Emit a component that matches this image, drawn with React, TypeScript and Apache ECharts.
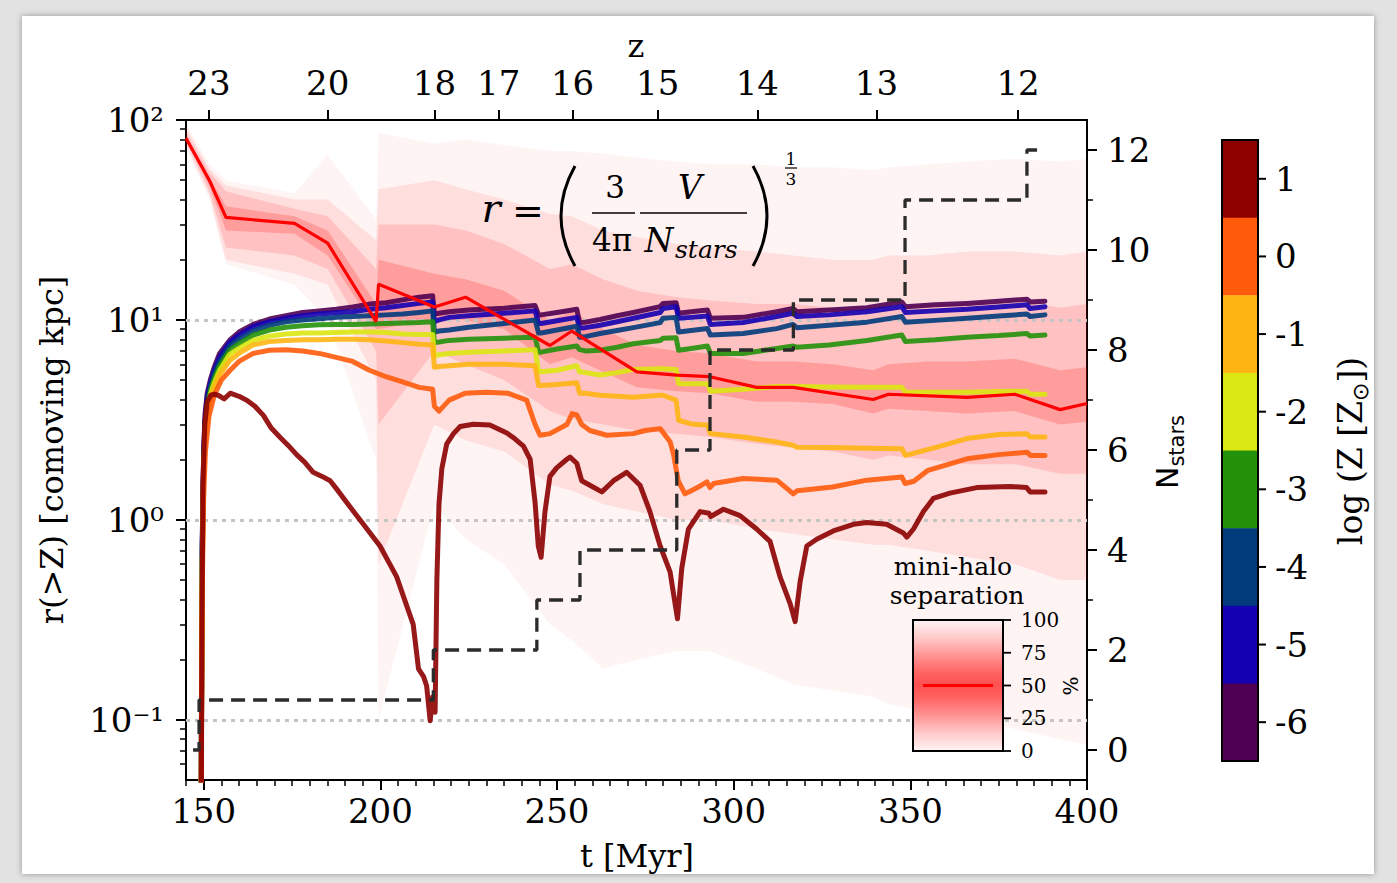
import React, { useEffect, useRef } from 'react';
import * as echarts from 'echarts';

// ---------- axis ticks / labels ----------
const T_TICKS = [150, 200, 250, 300, 350, 400];
const Z_LABELS = ['23', '20', '18', '17', '16', '15', '14', '13', '12'];
const Z_TICK_T = [151.5, 185.1, 215.3, 233.5, 254.4, 278.5, 306.7, 340.4, 380.5];
const R_TICKS = [0.1, 1, 10, 100];
const R_TICK_LABELS = ['10⁻¹', '10⁰', '10¹', '10²'];
const N_TICKS = [0, 2, 4, 6, 8, 10, 12];
const N_MINOR = [1, 3, 5, 7, 9, 11];
const METAL_LEVELS = [1, 0, -1, -2, -3, -4, -5, -6];
const METAL_COLORS = ['#8c0000', '#ff5b0b', '#ffb514', '#dbe712', '#24910b', '#013b7c', '#1400b1', '#4f0052'];
const LEGEND_PCT = [100, 75, 50, 25, 0];

// ---------- metallicity radius curves ----------
const T_GRID = [149.2, 149.6, 150.0, 150.4, 151.0, 152.0, 153.0, 154.5, 157.3, 160.0, 164.0, 168.6, 173.3, 178.0, 182.7, 187.5, 192.2, 196.9, 201.6, 206.3, 211.0, 214.8,
  215.3, 216.6, 219.5, 225.0, 235.0, 243.8,
  244.8, 245.5, 250.0, 255.6,
  256.4, 258.0, 262.2, 267.0, 271.6, 279.2, 280.0, 283.7,
  284.4, 288.0, 292.6,
  293.4, 302.7, 312.2, 316.8,
  317.9, 327.0, 337.7, 347.6,
  348.6, 357.0, 366.0, 375.0, 383.0,
  383.9, 388.1];
const R_M6 = [0.02, 0.8, 2.2, 3.4, 4.3, 5.1, 5.8, 6.8, 7.9, 8.7, 9.5, 10.1, 10.5, 10.9, 11.1, 11.3, 11.6, 12.0, 12.2, 12.6, 13.0, 13.2,
  10.7, 10.8, 11.0, 11.2, 11.45, 11.8,
  10.6, 10.6, 10.9, 11.3,
  9.7, 9.75, 10.05, 10.5, 10.9, 11.65, 12.1, 12.2,
  10.8, 11.0, 11.2,
  10.2, 10.3, 11.0, 11.4,
  11.0, 11.2, 11.5, 12.3,
  11.65, 11.9, 12.1, 12.4, 12.7,
  12.3, 12.4];
const R_M5 = [0.02, 0.75, 2.1, 3.2, 4.1, 4.9, 5.6, 6.5, 7.7, 8.4, 9.25, 9.8, 10.2, 10.5, 10.7, 10.85, 11.0, 11.3, 11.5, 11.8, 12.1, 12.3,
  9.8, 10.0, 10.3, 10.5, 10.8, 11.1,
  9.6, 9.6, 9.9, 10.3,
  9.1, 9.15, 9.4, 9.8, 10.2, 10.9, 11.4, 11.65,
  10.2, 10.3, 10.45,
  9.5, 9.7, 10.4, 10.8,
  10.4, 10.6, 11.0, 11.65,
  10.9, 11.1, 11.3, 11.6, 11.9,
  11.4, 11.65];
const R_M4 = [0.02, 0.7, 2.0, 3.0, 3.9, 4.7, 5.4, 6.2, 7.4, 8.0, 8.8, 9.4, 9.8, 10.0, 10.15, 10.3, 10.4, 10.5, 10.6, 10.7, 10.9, 11.1,
  8.7, 8.8, 8.9, 9.2, 9.6, 10.0,
  8.6, 8.6, 8.9, 9.3,
  8.2, 8.25, 8.55, 8.85, 9.15, 9.7, 10.2, 10.3,
  8.7, 8.85, 9.05,
  8.4, 8.55, 9.05, 9.5,
  9.15, 9.4, 9.75, 10.4,
  9.75, 9.95, 10.2, 10.45, 10.7,
  10.4, 10.6];
const R_M3 = [0.02, 0.65, 1.9, 2.8, 3.7, 4.5, 5.1, 5.9, 7.05, 7.6, 8.4, 8.9, 9.2, 9.35, 9.45, 9.5, 9.5, 9.55, 9.6, 9.65, 9.7, 9.8,
  7.7, 7.75, 7.9, 8.0, 8.1, 8.2,
  6.9, 6.9, 7.15, 7.4,
  7.1, 7.0, 7.05, 7.3, 7.6, 7.9, 8.1, 8.15,
  7.05, 7.2, 7.4,
  6.8, 6.8, 7.2, 7.4,
  7.3, 7.5, 7.9, 8.4,
  7.8, 7.95, 8.2, 8.35, 8.55,
  8.3, 8.4];
const R_M2 = [0.02, 0.6, 1.8, 2.6, 3.5, 4.3, 4.85, 5.6, 6.7, 7.2, 7.9, 8.3, 8.5, 8.6, 8.6, 8.65, 8.7, 8.7, 8.65, 8.5, 8.45, 8.45,
  6.6, 6.7, 6.8, 6.9, 7.0, 7.1,
  5.5, 5.5, 5.6, 5.9,
  5.5, 5.45, 5.3, 5.45, 5.65, 5.7, 5.7, 5.65,
  4.8, 4.8, 4.8,
  4.4, 4.5, 4.65, 4.65,
  4.65, 4.62, 4.6, 4.6,
  4.35, 4.35, 4.35, 4.38, 4.4,
  4.25, 4.25];
const R_M1 = [0.02, 0.55, 1.7, 2.5, 3.3, 4.1, 4.6, 5.3, 6.25, 6.8, 7.5, 7.8, 7.9, 7.95, 7.95, 8.0, 8.0, 7.95, 7.85, 7.7, 7.55, 7.5,
  5.8, 5.85, 5.9, 6.0, 6.0, 5.9,
  4.7, 4.7, 4.75, 4.85,
  4.3, 4.3, 4.2, 4.15, 4.1, 4.2, 4.2, 3.97,
  3.15, 3.02, 2.97,
  2.7, 2.6, 2.45, 2.36,
  2.31, 2.3, 2.28, 2.27,
  2.1, 2.3, 2.55, 2.67, 2.7,
  2.6, 2.6];
const R_Z0 = [[149.2, 0.02], [149.6, 0.45], [150.0, 1.3], [150.5, 2.2], [151.5, 3.3], [153, 4.2], [155, 5.0], [157.5, 5.6], [160, 6.2], [164, 6.8], [168.6, 7.05], [173.3, 7.1], [178, 7.0], [182.7, 6.8], [187.5, 6.5], [192.2, 6.2], [196.9, 5.6], [201.6, 5.2], [206.3, 4.9], [211, 4.6], [214.8, 4.5], [215.3, 3.7], [216.6, 3.5], [219.5, 3.97], [224, 4.3], [230, 4.35], [236, 4.3], [241.4, 3.97], [243.8, 3.0], [245.2, 2.65], [248, 2.7], [252.8, 3.0], [254.3, 3.4], [255.6, 3.35], [257, 3.0], [259.3, 2.8], [264.1, 2.65], [271.6, 2.7], [275, 2.8], [279.2, 2.86], [282, 2.46], [283, 2.12], [284.3, 1.57], [286.2, 1.35], [288, 1.4], [290, 1.46], [292.4, 1.55], [293.3, 1.45], [294.3, 1.52], [302.7, 1.61], [312.2, 1.58], [316.9, 1.35], [318, 1.4], [328, 1.46], [337.7, 1.58], [347.6, 1.64], [348.5, 1.52], [351, 1.56], [355, 1.77], [366, 2.02], [375, 2.12], [383, 2.18], [384, 2.1], [388.1, 2.1]];
const R_P1 = [[149.3, 0.02], [149.5, 0.3], [149.8, 1.5], [150.3, 3.0], [151.0, 3.9], [152.0, 4.2], [153.0, 4.25], [154.1, 4.2], [155.8, 4.03], [157.5, 4.3], [160, 4.15], [162.2, 3.97], [164.5, 3.7], [166.9, 3.33], [169, 2.9], [171.6, 2.59], [174, 2.35], [176.3, 2.12], [178.5, 1.95], [181.0, 1.73], [183.5, 1.65], [185.8, 1.57], [188, 1.4], [190.5, 1.22], [195.2, 0.95], [199.9, 0.74], [204.6, 0.52], [209.3, 0.3], [210.8, 0.18], [212.2, 0.165], [213.1, 0.148], [214.1, 0.099], [214.8, 0.13], [215.5, 0.109], [216.0, 0.5], [216.6, 1.2], [217.4, 1.8], [218.8, 2.4], [220.7, 2.7], [222.6, 2.93], [226.3, 3.01], [231.0, 2.98], [235.8, 2.72], [238, 2.55], [240.5, 2.34], [242.4, 2.01], [243.8, 1.22], [244.7, 0.74], [245.5, 0.65], [246.6, 1.1], [248.0, 1.65], [249.9, 1.82], [252.8, 2.01], [253.7, 2.06], [255.6, 1.92], [257.0, 1.57], [259.3, 1.49], [262.7, 1.38], [266.0, 1.57], [269.7, 1.73], [273.5, 1.49], [276.3, 1.1], [279.2, 0.74], [282.0, 0.55], [284.1, 0.32], [285.3, 0.57], [287.2, 0.9], [290.5, 1.1], [293.0, 1.08], [293.5, 1.04], [297.1, 1.13], [301.8, 1.05], [306.5, 0.9], [310.3, 0.78], [313.1, 0.52], [316.0, 0.38], [317.4, 0.31], [318.8, 0.49], [320.7, 0.74], [323.5, 0.8], [328.2, 0.88], [333.9, 0.95], [337.7, 0.97], [343.3, 0.95], [348.0, 0.86], [349.0, 0.82], [350.9, 0.9], [353.7, 1.1], [356.5, 1.28], [361.2, 1.36], [368.8, 1.45], [378.2, 1.47], [382.9, 1.45], [383.9, 1.38], [388.1, 1.38]];

// ---------- mini-halo separation (median + percentiles) ----------
const MEDIAN = [[145, 81], [151.6, 50], [156.3, 32.6], [175.7, 30.4], [185.1, 24.2], [198.8, 9.8], [199.5, 15.1], [215.3, 11.6], [224.1, 13.0], [248, 7.45], [254.2, 8.8], [272.6, 5.5], [283.9, 5.3], [293.3, 5.2], [306.5, 4.6], [316.9, 4.6], [339.5, 4.0], [343.8, 4.25], [366, 4.1], [379.6, 4.25], [392.4, 3.56], [400, 3.82]];
const BAND_T = [145, 151.6, 156.3, 175.7, 185.1, 198.8, 199.5, 215.3, 224.1, 235, 248, 254.2, 263, 272.6, 283.9, 293.3, 306.5, 316.9, 328, 339.5, 343.8, 355, 366, 379.6, 392.4, 400];
const P0 = [72, 40, 19, 15, 10, 2, 0.1, 1.2, 0.8, 0.6, 0.3, 0.25, 0.18, 0.2, 0.22, 0.22, 0.18, 0.15, 0.14, 0.13, 0.12, 0.11, 0.1, 0.09, 0.08, 0.075];
const P10 = [75, 42, 20, 17, 15, 5, 0.6, 3, 2.5, 2.2, 1.5, 1.4, 1.2, 1.1, 1.0, 1.0, 0.9, 0.85, 0.8, 0.75, 0.75, 0.7, 0.65, 0.6, 0.5, 0.5];
const P25 = [78, 44, 23, 21, 18, 7, 3, 7, 6, 5, 3.5, 3.2, 3, 2.8, 2.7, 2.6, 2.4, 2.3, 2.2, 2.0, 2.1, 2.0, 1.9, 1.9, 1.7, 1.7];
const P40 = [80, 47, 28, 27, 21, 9, 9, 10, 10, 9, 6, 6.5, 5.5, 4.6, 4.4, 4.3, 3.9, 3.9, 3.8, 3.4, 3.6, 3.5, 3.4, 3.5, 3.0, 3.1];
const P60 = [83, 52, 37, 33, 28, 12, 20, 17, 16, 14, 10, 11, 9, 7.5, 7.0, 6.8, 6.2, 6.2, 6.0, 5.6, 6.0, 6.2, 6.2, 6.4, 5.6, 5.8];
const P75 = [87, 55, 44, 36, 33, 18, 30, 30, 28, 24, 18, 19, 16, 14, 13, 12.5, 12, 12, 11.5, 11, 11.5, 12, 12, 12.5, 11.5, 12];
const P90 = [92, 57, 47, 40, 40, 25, 45, 50, 45, 40, 34, 33, 28, 26, 24, 23, 22, 21, 20, 20, 21, 21, 22, 22, 21, 22];
const P100 = [96, 60, 50, 43, 67, 32, 86, 76, 80, 75, 70, 70, 68, 65, 62, 60, 60, 58, 58, 56, 58, 60, 62, 64, 62, 64];

// ---------- number of stars (step) ----------
const NSTARS = [[147, 0], [148.7, 1], [215, 2], [244.3, 3], [256.5, 4], [283.9, 6], [293.3, 8], [316.9, 9], [348.5, 11], [383, 12], [386.7, 12]];

const SERIF = 'DejaVu Serif';
const SANS = 'DejaVu Sans';

const zip = (t: number[], v: number[]) => t.map((x, i) => [x, v[i]]);

function buildOption(): any {
  const tMinor: number[] = [];
  for (let v = 145; v <= 400; v += 5) if (v % 50 !== 0) tMinor.push(v);
  const rMinor: number[] = [];
  [0.01, 0.1, 1, 10].forEach((d) => {
    for (let m = 2; m <= 9; m++) {
      const v = +(m * d).toPrecision(3);
      if (v > 0.05 && v < 100) rMinor.push(v);
    }
  });

  const tickLine = { color: '#000', width: 2 };
  const minorLine = { color: '#000', width: 1.5 };
  const labelBase = { color: '#000', fontFamily: SERIF, fontSize: 34 };

  const bands = [
    { lo: P0, hi: P100, fill: 'rgba(255,0,0,0.045)' },
    { lo: P10, hi: P90, fill: 'rgba(255,0,0,0.09)' },
    { lo: P25, hi: P75, fill: 'rgba(255,0,0,0.13)' },
    { lo: P40, hi: P60, fill: 'rgba(255,0,0,0.19)' },
  ];

  const curveSets: any[] = [
    { level: -6, data: zip(T_GRID, R_M6) },
    { level: -5, data: zip(T_GRID, R_M5) },
    { level: -4, data: zip(T_GRID, R_M4) },
    { level: -3, data: zip(T_GRID, R_M3) },
    { level: -2, data: zip(T_GRID, R_M2) },
    { level: -1, data: zip(T_GRID, R_M1) },
    { level: 0, data: R_Z0 },
    { level: 1, data: R_P1 },
  ];

  const curveSeries = curveSets.map((c) => ({
    type: 'line',
    name: 'log Z = ' + c.level,
    xAxisIndex: 0,
    yAxisIndex: 0,
    data: c.data,
    showSymbol: false,
    symbol: 'none',
    z: 3,
    clip: true,
    lineStyle: { color: METAL_COLORS[METAL_LEVELS.indexOf(c.level)], width: 5, opacity: 0.9, join: 'round', cap: 'round' },
  }));

  // ---------- graphics: labels, colorbar, formula, inset legend ----------
  const g: any[] = [];
  const txt = (x: number, y: number, text: string, size: number, extra: any = {}, el: any = {}) => ({
    type: 'text', x, y, z: 20, silent: true, ...el,
    style: { text, fontSize: size, fontFamily: SERIF, fill: '#000', align: 'center', verticalAlign: 'middle', ...extra },
  });
  g.push(txt(636, 46, 'z', 32));
  g.push(txt(637, 856, 't [Myr]', 32));
  g.push(txt(52, 450, 'r(>Z) [comoving kpc]', 32, {}, { rotation: Math.PI / 2 }));
  g.push({
    type: 'text', x: 1167, y: 452, rotation: Math.PI / 2, z: 20, silent: true,
    style: {
      text: '{n|N}{s|stars}', align: 'center', verticalAlign: 'middle', fill: '#000',
      rich: {
        n: { fontSize: 30, fontFamily: SANS, lineHeight: 40, fill: '#000', verticalAlign: 'middle' },
        s: { fontSize: 21, fontFamily: SANS, lineHeight: 21, fill: '#000', verticalAlign: 'bottom' },
      },
    },
  });

  // colorbar
  const cbX = 1222, cbY = 140, cbW = 36, cbH = 621;
  const cell = cbH / METAL_LEVELS.length;
  METAL_LEVELS.forEach((lv, i) => {
    g.push({ type: 'rect', z: 20, silent: true, shape: { x: cbX, y: cbY + i * cell, width: cbW, height: cell + 0.6 }, style: { fill: METAL_COLORS[i] } });
    const cy = cbY + (i + 0.5) * cell;
    g.push({ type: 'line', z: 21, silent: true, shape: { x1: cbX + cbW, y1: cy, x2: cbX + cbW + 8, y2: cy }, style: { stroke: '#000', lineWidth: 2 } });
    g.push(txt(cbX + cbW + 17, cy, String(lv), 34, { align: 'left' }));
  });
  g.push({ type: 'rect', z: 21, silent: true, shape: { x: cbX, y: cbY, width: cbW, height: cbH }, style: { fill: 'none', stroke: '#000', lineWidth: 2 } });
  g.push({
    type: 'text', x: 1350, y: 451, rotation: Math.PI / 2, z: 20, silent: true,
    style: {
      text: '{a|log (Z [Z}{s|⊙}{a|])}', align: 'center', verticalAlign: 'middle', fill: '#000',
      rich: {
        a: { fontSize: 33, fontFamily: SERIF, lineHeight: 42, fill: '#000', verticalAlign: 'middle' },
        s: { fontSize: 22, fontFamily: SANS, lineHeight: 22, fill: '#000', verticalAlign: 'bottom' },
      },
    },
  });

  // formula
  const italic = { fontStyle: 'italic' };
  g.push(txt(491, 208, 'r', 40, italic));
  g.push(txt(528, 211, '=', 38));
  g.push({ type: 'bezierCurve', z: 20, silent: true, shape: { x1: 575, y1: 166, x2: 575, y2: 266, cpx1: 547, cpy1: 216 }, style: { stroke: '#000', lineWidth: 3, fill: 'none' } });
  g.push(txt(615, 187, '3', 31));
  g.push({ type: 'line', z: 20, silent: true, shape: { x1: 592, y1: 213, x2: 635, y2: 213 }, style: { stroke: '#000', lineWidth: 1.6 } });
  g.push(txt(612, 240, '4π', 31));
  g.push(txt(690, 187, 'V', 33, italic));
  g.push({ type: 'line', z: 20, silent: true, shape: { x1: 640, y1: 213, x2: 747, y2: 213 }, style: { stroke: '#000', lineWidth: 1.6 } });
  g.push(txt(659, 240, 'N', 33, italic));
  g.push(txt(675, 249, 'stars', 25, { ...italic, align: 'left' }));
  g.push({ type: 'bezierCurve', z: 20, silent: true, shape: { x1: 753, y1: 166, x2: 753, y2: 266, cpx1: 781, cpy1: 216 }, style: { stroke: '#000', lineWidth: 3, fill: 'none' } });
  g.push(txt(791, 159, '1', 17));
  g.push({ type: 'line', z: 20, silent: true, shape: { x1: 785, y1: 168, x2: 797, y2: 168 }, style: { stroke: '#000', lineWidth: 1.2 } });
  g.push(txt(791, 179, '3', 17));

  // inset legend
  const lgX = 913, lgY = 620, lgW = 90, lgH = 131;
  g.push(txt(953, 566, 'mini-halo', 25));
  g.push(txt(957, 595, 'separation', 25));
  g.push({
    type: 'rect', z: 20, silent: true, shape: { x: lgX, y: lgY, width: lgW, height: lgH },
    style: {
      stroke: '#000', lineWidth: 2,
      fill: new echarts.graphic.LinearGradient(0, 0, 0, 1, [
        { offset: 0, color: '#fff3f3' },
        { offset: 0.13, color: '#ffcccc' },
        { offset: 0.27, color: '#ff9494' },
        { offset: 0.4, color: '#ff6464' },
        { offset: 0.5, color: '#ff5050' },
        { offset: 0.6, color: '#ff6464' },
        { offset: 0.73, color: '#ff9494' },
        { offset: 0.87, color: '#ffcccc' },
        { offset: 1, color: '#fff3f3' },
      ]),
    },
  });
  g.push({ type: 'line', z: 21, silent: true, shape: { x1: 923, y1: lgY + lgH / 2, x2: 993, y2: lgY + lgH / 2 }, style: { stroke: '#ff0000', lineWidth: 3.2 } });
  LEGEND_PCT.forEach((p) => {
    const y = lgY + ((100 - p) / 100) * lgH;
    g.push({ type: 'line', z: 21, silent: true, shape: { x1: lgX + lgW, y1: y, x2: lgX + lgW + 8, y2: y }, style: { stroke: '#000', lineWidth: 1.8 } });
    g.push(txt(lgX + lgW + 18, y, String(p), 20, { align: 'left' }));
  });
  g.push(txt(1071, 686, '%', 20, {}, { rotation: Math.PI / 2 }));

  const zLabel = (v: number) => {
    const i = Z_TICK_T.findIndex((t) => Math.abs(t - v) < 1e-6);
    return i >= 0 ? Z_LABELS[i] : '';
  };
  const rLabel = (v: number) => {
    const i = R_TICKS.findIndex((t) => Math.abs(Math.log10(t) - Math.log10(v)) < 1e-6);
    return i >= 0 ? R_TICK_LABELS[i] : '';
  };

  return {
    animation: false,
    backgroundColor: 'transparent',
    grid: { left: 186, right: 310, top: 120, bottom: 103, containLabel: false },
    xAxis: [
      {
        type: 'value', min: 145, max: 400, position: 'bottom',
        axisLine: { show: true, onZero: false, lineStyle: tickLine },
        axisTick: { show: true, length: 10, lineStyle: tickLine, customValues: T_TICKS },
        axisLabel: { ...labelBase, margin: 14, customValues: T_TICKS },
        splitLine: { show: false },
      },
      {
        type: 'value', min: 145, max: 400, position: 'bottom',
        axisLine: { show: false, onZero: false },
        axisTick: { show: true, length: 6, lineStyle: minorLine, customValues: tMinor },
        axisLabel: { show: false },
        splitLine: { show: false },
      },
      {
        type: 'value', min: 145, max: 400, position: 'top',
        axisLine: { show: true, onZero: false, lineStyle: tickLine },
        axisTick: { show: true, length: 10, lineStyle: tickLine, customValues: Z_TICK_T },
        axisLabel: { ...labelBase, margin: 20, customValues: Z_TICK_T, formatter: zLabel },
        splitLine: { show: false },
      },
    ],
    yAxis: [
      {
        type: 'log', logBase: 10, min: 0.05, max: 100, position: 'left',
        axisLine: { show: true, onZero: false, lineStyle: tickLine },
        axisTick: { show: true, length: 10, lineStyle: tickLine, customValues: R_TICKS },
        axisLabel: { ...labelBase, margin: 22, customValues: R_TICKS, formatter: rLabel },
        splitLine: { show: false },
      },
      {
        type: 'log', logBase: 10, min: 0.05, max: 100, position: 'left',
        axisLine: { show: false, onZero: false },
        axisTick: { show: true, length: 6, lineStyle: minorLine, customValues: rMinor },
        axisLabel: { show: false },
        splitLine: { show: false },
      },
      {
        type: 'value', min: -0.6, max: 12.6, position: 'right',
        axisLine: { show: true, onZero: false, lineStyle: tickLine },
        axisTick: { show: true, length: 10, lineStyle: tickLine, customValues: N_TICKS },
        axisLabel: { ...labelBase, margin: 20, customValues: N_TICKS },
        splitLine: { show: false },
      },
      {
        type: 'value', min: -0.6, max: 12.6, position: 'right',
        axisLine: { show: false, onZero: false },
        axisTick: { show: true, length: 6, lineStyle: minorLine, customValues: N_MINOR },
        axisLabel: { show: false },
        splitLine: { show: false },
      },
    ],
    series: [
      {
        type: 'custom', name: 'mini-halo separation percentiles', xAxisIndex: 0, yAxisIndex: 0, z: 1, clip: true, silent: true,
        data: bands.map((b, i) => [BAND_T[0], b.lo[0], i]),
        encode: { x: 0, y: 1 },
        renderItem: (params: any, api: any) => {
          const b = bands[params.dataIndex];
          const pts: number[][] = [];
          BAND_T.forEach((t, k) => pts.push(api.coord([t, b.hi[k]])));
          for (let k = BAND_T.length - 1; k >= 0; k--) pts.push(api.coord([BAND_T[k], b.lo[k]]));
          return { type: 'polygon', shape: { points: pts }, style: { fill: b.fill, stroke: null } };
        },
      },
      {
        type: 'line', name: 'grid', xAxisIndex: 0, yAxisIndex: 0, data: [], z: 2, silent: true,
        markLine: {
          z: 2, silent: true, symbol: ['none', 'none'], label: { show: false },
          lineStyle: { color: '#c4c4c4', width: 3, type: [4, 5] },
          data: R_TICKS.filter((v) => v < 100).map((v) => ({ yAxis: v })),
        },
      },
      ...curveSeries,
      {
        type: 'line', name: 'median separation', xAxisIndex: 0, yAxisIndex: 0, data: MEDIAN, showSymbol: false, symbol: 'none', z: 4,
        lineStyle: { color: '#ff0000', width: 3.2 },
      },
      {
        type: 'line', name: 'N_stars', xAxisIndex: 0, yAxisIndex: 2, data: NSTARS, step: 'end', showSymbol: false, symbol: 'none', z: 5,
        lineStyle: { color: '#2b2b2b', width: 3.3, type: [14, 8] },
      },
    ],
    graphic: g,
  };
}

export default function App() {
  const ref = useRef<HTMLDivElement>(null);
  useEffect(() => {
    if (!ref.current) return;
    const chart = echarts.init(ref.current, null, { renderer: 'svg' });
    chart.setOption(buildOption());
    return () => chart.dispose();
  }, []);
  return (
    <div style={{ position: 'fixed', left: 0, top: 0, width: 1397, height: 883, background: '#e2e2e2', overflow: 'hidden' }}>
      <div style={{ position: 'absolute', left: 22, top: 16, width: 1352, height: 858, background: '#ffffff', boxShadow: '0 0 6px rgba(0,0,0,0.35)' }} />
      <div ref={ref} style={{ position: 'absolute', left: 0, top: 0, width: 1397, height: 883 }} />
    </div>
  );
}
